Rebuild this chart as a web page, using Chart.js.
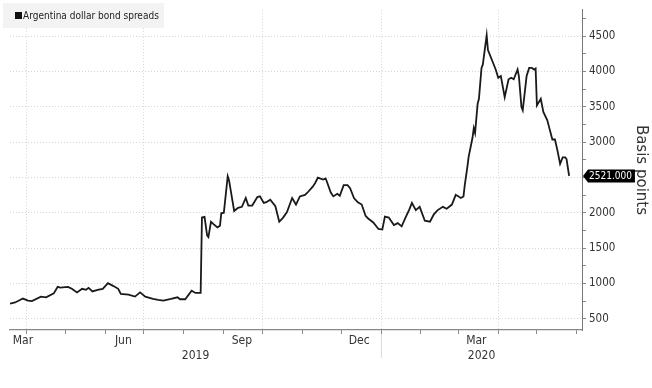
<!DOCTYPE html>
<html>
<head>
<meta charset="utf-8">
<script src="https://cdn.jsdelivr.net/npm/chart.js@4"></script>
<style>
html,body{margin:0;padding:0;background:#fff;}
#wrap{position:relative;width:652px;height:388px;}
</style>
</head>
<body>
<div id="wrap"><canvas id="c" width="652" height="388"></canvas></div>
<script>
const seriesName = 'Argentina dollar bond spreads';
const axisTitle = 'Basis points';

const dates = ['2019-03-19','2019-03-23','2019-03-29','2019-04-02','2019-04-05','2019-04-12','2019-04-16','2019-04-22','2019-04-25','2019-04-27','2019-05-03','2019-05-06','2019-05-10','2019-05-14','2019-05-17','2019-05-19','2019-05-22','2019-05-26','2019-05-30','2019-06-03','2019-06-07','2019-06-11','2019-06-13','2019-06-19','2019-06-24','2019-06-28','2019-07-02','2019-07-08','2019-07-12','2019-07-16','2019-07-22','2019-07-27','2019-07-29','2019-08-02','2019-08-07','2019-08-10','2019-08-14','2019-08-15','2019-08-17','2019-08-19','2019-08-20','2019-08-22','2019-08-24','2019-08-27','2019-08-29','2019-08-30','2019-09-01','2019-09-04','2019-09-05','2019-09-09','2019-09-12','2019-09-15','2019-09-18','2019-09-20','2019-09-23','2019-09-27','2019-09-29','2019-10-02','2019-10-04','2019-10-07','2019-10-11','2019-10-14','2019-10-17','2019-10-20','2019-10-24','2019-10-27','2019-10-30','2019-11-03','2019-11-05','2019-11-09','2019-11-11','2019-11-13','2019-11-17','2019-11-19','2019-11-20','2019-11-23','2019-11-25','2019-11-28','2019-11-30','2019-12-03','2019-12-06','2019-12-08','2019-12-11','2019-12-14','2019-12-17','2019-12-20','2019-12-22','2019-12-26','2019-12-30','2020-01-02','2020-01-04','2020-01-07','2020-01-11','2020-01-14','2020-01-17','2020-01-20','2020-01-23','2020-01-25','2020-01-28','2020-01-31','2020-02-04','2020-02-08','2020-02-11','2020-02-14','2020-02-18','2020-02-21','2020-02-25','2020-02-28','2020-03-03','2020-03-05','2020-03-06','2020-03-08','2020-03-09','2020-03-12','2020-03-13','2020-03-14','2020-03-16','2020-03-17','2020-03-19','2020-03-20','2020-03-23','2020-03-24','2020-03-27','2020-03-30','2020-04-01','2020-04-03','2020-04-06','2020-04-09','2020-04-11','2020-04-13','2020-04-16','2020-04-17','2020-04-19','2020-04-20','2020-04-23','2020-04-25','2020-04-27','2020-04-29','2020-04-30','2020-05-01','2020-05-04','2020-05-06','2020-05-09','2020-05-10','2020-05-13','2020-05-15','2020-05-17','2020-05-19','2020-05-21','2020-05-23','2020-05-24','2020-05-26'];

const spreads = [712,730,785,757,748,813,803,858,951,941,951,923,872,923,909,937,886,909,923,1002,965,923,850,840,813,872,813,780,767,757,780,803,775,775,896,864,864,1931,1940,1678,1655,1872,1839,1793,1816,1991,2000,2516,2461,2024,2070,2083,2208,2101,2101,2221,2231,2138,2148,2184,2092,1872,1931,2010,2208,2115,2231,2253,2286,2369,2424,2497,2470,2484,2438,2286,2231,2267,2239,2391,2391,2346,2208,2148,2115,1955,1918,1862,1770,1761,1945,1931,1825,1853,1807,1931,2046,2138,2037,2083,1886,1872,1977,2037,2083,2056,2115,2253,2208,2230,2391,2645,2790,3060,3198,3129,3543,3612,4049,4095,4510,4302,4164,4026,3910,3934,3634,3888,3910,3888,4026,3934,3496,3450,3934,4049,4049,4026,4040,3519,3612,3427,3312,3243,3036,3036,2875,2691,2783,2783,2760,2521];

const monthLabels = ['Mar','Jun','Sep','Dec','Mar'];
const monthLabelDates = ['2019-03-15','2019-06-15','2019-09-15','2019-12-15','2020-03-15'];
const yearLabels = ['2019','2020'];
const yearStarts = ['2019-01-01','2020-01-01','2021-01-01'];
const yTickLabels = [500,1000,1500,2000,2500,3000,3500,4000,4500];
const axisStart = '2019-03-19';
const axisEnd = '2020-06-05';
const yMin = 340, yMax = 4870;

const FONT = "'Liberation Sans Narrow','DejaVu Sans Condensed','Liberation Sans',sans-serif";

function dayNum(s){
  const [y,m,d] = s.split('-').map(Number);
  return (Date.UTC(y,m-1,d) - Date.UTC(2019,0,1)) / 864e5;
}
const xMin = dayNum(axisStart), xMax = dayNum(axisEnd);

const xTicks = [];
for (let y = 2019, m = 3; ; ) {
  const v = (Date.UTC(y,m,1) - Date.UTC(2019,0,1)) / 864e5;
  if (v > xMax) break;
  if (v >= xMin) xTicks.push({value:v, kind: (m % 3 === 0) ? 'q' : 'm', text:''});
  m++; if (m > 11) { m = 0; y++; }
}
monthLabels.forEach((t,i) => {
  const v = Math.max(dayNum(monthLabelDates[i]), xMin + 10);
  xTicks.push({value:v, kind:'l', text:[t, '']});
});
yearLabels.forEach((t,i) => {
  const a = Math.max(dayNum(yearStarts[i]), xMin), b = Math.min(dayNum(yearStarts[i+1]), xMax);
  xTicks.push({value:(a+b)/2, kind:'y', text:['', t]});
});
xTicks.sort((a,b) => a.value - b.value);

const yTicks = [];
for (let v = 500; v <= 4750; v += 250) yTicks.push(v);

const annot = {
  id: 'annot',
  afterDraw(chart) {
    const {ctx, chartArea, scales} = chart;
    ctx.save();
    const xs = scales.x.getPixelForValue(dayNum(yearStarts[1]));
    ctx.strokeStyle = '#dcdcdc'; ctx.lineWidth = 1;
    ctx.beginPath(); ctx.moveTo(Math.round(xs)+0.5, chartArea.bottom + 4); ctx.lineTo(Math.round(xs)+0.5, chartArea.bottom + 28); ctx.stroke();
    // legend
    ctx.fillStyle = '#f3f3f3';
    ctx.fillRect(3, 3, 161, 25);
    ctx.fillStyle = '#111';
    ctx.fillRect(15, 12, 7, 7);
    ctx.font = '10px ' + FONT;
    ctx.textBaseline = 'middle';
    ctx.fillStyle = '#222';
    ctx.fillText(seriesName, 23, 16);
    // last value tag
    const last = spreads[spreads.length - 1];
    const txt = last.toFixed(3);
    const yv = scales.y.getPixelForValue(last);
    const x0 = chartArea.right;
    ctx.font = '10px ' + FONT;
    const w = ctx.measureText(txt).width;
    ctx.fillStyle = '#000';
    ctx.beginPath();
    ctx.moveTo(x0 + 1, yv);
    ctx.lineTo(x0 + 6, yv - 6.5);
    ctx.lineTo(x0 + 10 + w, yv - 6.5);
    ctx.lineTo(x0 + 10 + w, yv + 6.5);
    ctx.lineTo(x0 + 6, yv + 6.5);
    ctx.closePath();
    ctx.fill();
    ctx.fillStyle = '#fff';
    ctx.textBaseline = 'middle';
    ctx.fillText(txt, x0 + 7, yv + 0.5);
    ctx.restore();
  }
};

new Chart(document.getElementById('c'), {
  type: 'line',
  data: {
    datasets: [{
      label: seriesName,
      data: dates.map((d,i) => ({x: dayNum(d), y: spreads[i]})),
      borderColor: '#1a1a1a',
      borderWidth: 1.8,
      pointRadius: 0,
      tension: 0,
      fill: false
    }]
  },
  options: {
    responsive: false,
    animation: false,
    devicePixelRatio: 1,
    layout: {padding: {left: 10, top: 2, right: 0, bottom: 0}},
    plugins: {legend: {display: false}, tooltip: {enabled: false}},
    scales: {
      x: {
        type: 'linear', min: xMin, max: xMax,
        afterBuildTicks: s => { s.ticks = xTicks.map(t => ({...t})); },
        afterFit: s => { s.height = 58; },
        ticks: {
          autoSkip: false, maxRotation: 0, minRotation: 0, padding: 0,
          color: '#333', font: {family: FONT, size: 12, lineHeight: 1.2},
          callback: (v, i, t) => t[i].text
        },
        grid: {
          color: c => (c.tick && c.tick.kind === 'q') ? '#d6d6d6' : 'rgba(0,0,0,0)',
          tickColor: c => (c.tick && (c.tick.kind === 'q' || c.tick.kind === 'm')) ? '#888' : 'rgba(0,0,0,0)',
          tickLength: 4, lineWidth: 1
        },
        border: {color: '#888', width: 1.2, dash: [1, 2]}
      },
      y: {
        position: 'right', min: yMin, max: yMax,
        afterBuildTicks: s => { s.ticks = yTicks.map(v => ({value: v})); },
        afterFit: s => { s.width = 70; },
        ticks: {
          padding: 3, color: '#333', font: {family: FONT, size: 11.5},
          callback: v => yTickLabels.includes(v) ? String(v) : ''
        },
        grid: {
          color: c => (c.tick && yTickLabels.includes(c.tick.value)) ? '#d6d6d6' : 'rgba(0,0,0,0)',
          tickColor: '#888', tickLength: 4, lineWidth: 1
        },
        border: {color: '#777', width: 1, dash: [1, 2]},
        title: {display: true, text: axisTitle, color: '#333', font: {family: "'DejaVu Sans',sans-serif", size: 15}, padding: {top: 2, bottom: 0}}
      }
    }
  },
  plugins: [annot]
});
</script>
</body>
</html>
